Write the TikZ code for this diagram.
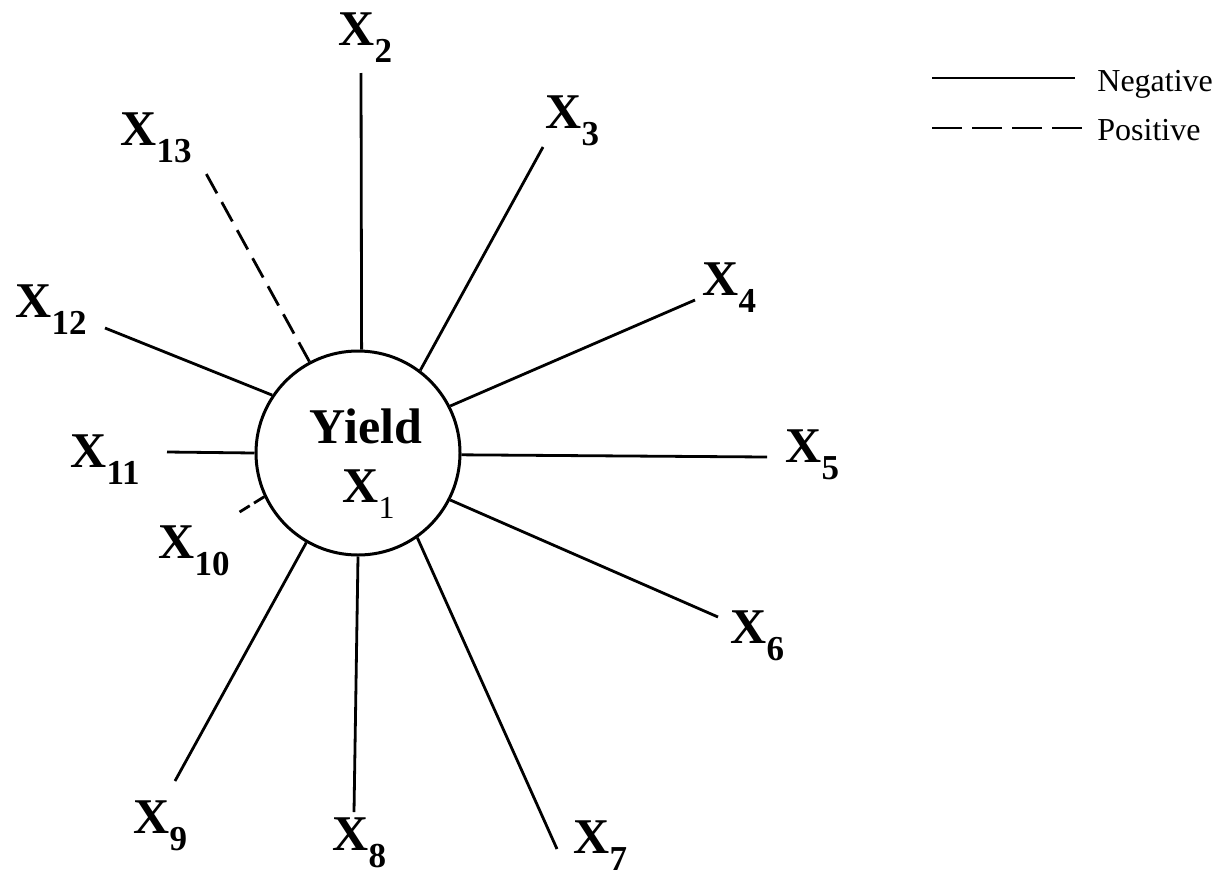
\documentclass[tikz,border=0pt]{standalone}
\usepackage{fontspec}
\setmainfont{Liberation Serif}
\usetikzlibrary{positioning}
\newcommand{\xvar}[1]{X\raisebox{-8.5pt}{\fontsize{17.5}{17.5}\selectfont #1}}

\begin{document}
\begin{tikzpicture}[
  x=0.5pt,y=-0.5pt,
  hub/.style={draw,circle,line width=1.5pt,minimum size=102pt,inner sep=0pt},
  varlbl/.style={anchor=base west,inner sep=0pt,
                 font=\fontsize{25}{25}\selectfont\bfseries},
  negline/.style={line width=1.4pt},
  posline/.style={line width=1.4pt,dash pattern=on 11pt off 5pt},
  key/.style={inner sep=0pt,font=\fontsize{16}{16}\selectfont},
]
\useasboundingbox (0,0) rectangle (1229,878);

% ---- centre: yield ----
\node[hub] (yield) at (358,453) {};
\node[varlbl,anchor=base] (yieldtxt) at (366,443) {Yield};
\node[varlbl] (xone) at (342,502)
     {X\raisebox{-8pt}{\fontsize{16}{16}\selectfont\mdseries 1}};

% ---- free ends of the spokes ----
\coordinate (e2)  at (361,73);
\coordinate (e3)  at (543,147);
\coordinate (e4)  at (695,300);
\coordinate (e5)  at (767,457);
\coordinate (e6)  at (718,617);
\coordinate (e7)  at (557,849);
\coordinate (e8)  at (354,812);
\coordinate (e9)  at (175,781);
\coordinate (e10) at (238,513);
\coordinate (e11) at (167,452);
\coordinate (e12) at (105,328);
\coordinate (e13) at (203,168);

% ---- variable labels ----
\node[varlbl] (x2)  at (338,45)  {\xvar{2}};
\node[varlbl] (x3)  at (545,128) {\xvar{3}};
\node[varlbl] (x4)  at (702,295) {\xvar{4}};
\node[varlbl] (x5)  at (785,462) {\xvar{5}};
\node[varlbl] (x6)  at (730,643) {\xvar{6}};
\node[varlbl] (x7)  at (573,853) {\xvar{7}};
\node[varlbl] (x8)  at (332,850) {\xvar{8}};
\node[varlbl] (x9)  at (133,833) {\xvar{9}};
\node[varlbl] (x10) at (158,558) {\xvar{10}};
\node[varlbl] (x11) at (70,467)  {\xvar{11}};
\node[varlbl] (x12) at (15,317)  {\xvar{12}};
\node[varlbl] (x13) at (120,145) {\xvar{13}};

% ---- spokes: solid = negative, dashed = positive ----
\draw[negline] (yield.88)   -- (e2);
\draw[negline] (yield.53)   -- (e3);
\draw[negline] (yield.27)   -- (e4);
\draw[negline] (yield.-1)   -- (e5);
\draw[negline] (yield.-27)  -- (e6);
\draw[negline] (yield.-55)  -- (e7);
\draw[negline] (yield.-90)  -- (e8);
\draw[negline] (yield.-120) -- (e9);
\draw[posline,dash pattern=on 6pt off 2.5pt] (yield.205) -- (e10);
\draw[negline] (yield.180)  -- (e11);
\draw[negline] (yield.146)  -- (e12);
\draw[posline] (yield.118)  -- (e13);

% ---- legend ----
\coordinate (negA) at (932,78);
\coordinate (negB) at (1075,78);
\coordinate (posA) at (932,128);
\coordinate (posB) at (1083,128);
\draw[negline] (negA) -- (negB);
\draw[posline,dash pattern=on 15pt off 5pt] (posA) -- (posB);
\node[key,right=11pt of negB,yshift=-3pt] (negtxt) {Negative};
\node[key,right=7pt of posB,yshift=-1pt] (postxt) {Positive};

\end{tikzpicture}
\end{document}
